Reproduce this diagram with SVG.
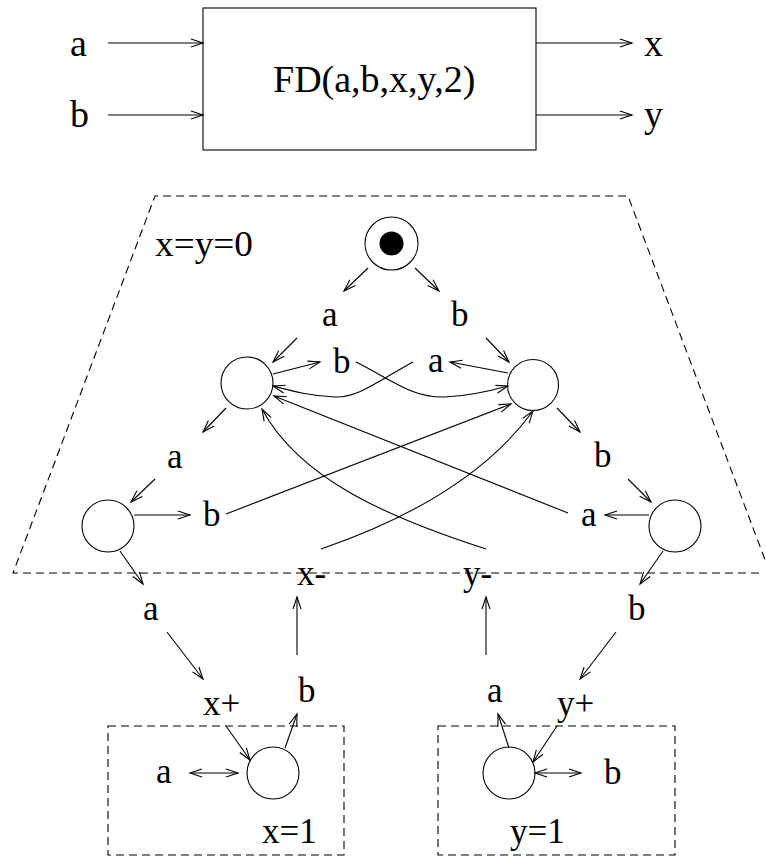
<svg xmlns="http://www.w3.org/2000/svg" width="766" height="859" viewBox="0 0 766 859">
<style>
text{font-family:"Liberation Serif","Times New Roman",serif;font-size:35px;fill:#000}
.big{font-size:38px}
.ln{fill:none;stroke:#000;stroke-width:1.1}
.ar{marker-end:url(#ah)}
.dbl{marker-start:url(#ah);marker-end:url(#ah)}
.st{fill:#fff;stroke:#000;stroke-width:1.1}
.dash{fill:none;stroke:#000;stroke-width:1.1;stroke-dasharray:8 5}
</style>
<defs>
<marker id="ah" viewBox="-1 -5 15 10" refX="12" refY="0" markerWidth="15" markerHeight="10" markerUnits="userSpaceOnUse" orient="auto-start-reverse">
<path d="M0,-4 L12,0 L0,4" fill="none" stroke="#000" stroke-width="1.1"/>
</marker>
</defs>
<rect width="766" height="859" fill="#fff"/>

<g id="block">
<rect x="203" y="8" width="333" height="142" class="st"/>
<text x="273" y="92" class="big">FD(a,b,x,y,2)</text>
<text x="70" y="56" class="big">a</text>
<text x="70" y="127" class="big">b</text>
<text x="644" y="56" class="big">x</text>
<text x="644" y="127" class="big">y</text>
</g>

<g id="region0">
<polyline points="759,573 13,573 155,196 628,196 770,573" class="dash"/>
<text x="155" y="256" textLength="98" lengthAdjust="spacingAndGlyphs">x=y=0</text>
</g>

<g id="init">
<circle cx="391.5" cy="243.5" r="26.5" class="st"/>
<circle cx="391.5" cy="243.5" r="12" fill="#000"/>
</g>
<g id="s1"><circle cx="247" cy="383" r="26" class="st"/></g>
<g id="s2"><circle cx="533" cy="385" r="25.5" class="st"/></g>
<g id="s3"><circle cx="108" cy="526" r="26" class="st"/></g>
<g id="s4"><circle cx="675" cy="526" r="26" class="st"/></g>
<g id="region-x1">
<rect x="108" y="726" width="236" height="129" class="dash"/>
<text x="262" y="843">x=1</text>
</g>
<g id="s5"><circle cx="273" cy="773" r="26" class="st"/></g>
<g id="region-y1">
<rect x="438" y="726" width="237" height="129" class="dash"/>
<text x="510" y="843">y=1</text>
</g>
<g id="s6"><circle cx="509" cy="773" r="26" class="st"/></g>

<g id="labels">
<text x="322" y="326">a</text>
<text x="451" y="326">b</text>
<text x="333" y="373">b</text>
<text x="428" y="372">a</text>
<text x="167" y="468">a</text>
<text x="594" y="467">b</text>
<text x="203" y="526">b</text>
<text x="581" y="526">a</text>
<text x="297" y="585">x-</text>
<text x="463" y="585">y-</text>
<text x="143" y="620">a</text>
<text x="628" y="620">b</text>
<text x="298" y="702">b</text>
<text x="487" y="702">a</text>
<text x="203" y="715">x+</text>
<text x="557" y="715">y+</text>
<text x="156" y="783">a</text>
<text x="604" y="784">b</text>
</g>

<g id="connectors">
<line x1="108" y1="43" x2="203" y2="43" class="ln ar"/>
<line x1="108" y1="115" x2="203" y2="115" class="ln ar"/>
<line x1="536" y1="43" x2="632" y2="43" class="ln ar"/>
<line x1="536" y1="115" x2="632" y2="115" class="ln ar"/>

<line x1="368" y1="268" x2="344" y2="291" class="ln ar"/>
<line x1="415" y1="268" x2="439" y2="291" class="ln ar"/>
<line x1="297" y1="338" x2="273" y2="362" class="ln ar"/>
<line x1="486" y1="338" x2="509" y2="362" class="ln ar"/>

<line x1="273" y1="374" x2="320" y2="362" class="ln ar"/>
<path d="M356,362 C392,380 412,398 445,397 C470,396 490,391 508,386" class="ln ar"/>
<line x1="508" y1="373" x2="450" y2="362" class="ln ar"/>
<path d="M413,362 C378,381 358,398 335,397 C310,396 292,391 273,386" class="ln ar"/>

<line x1="226" y1="408" x2="203" y2="432" class="ln ar"/>
<line x1="557" y1="408" x2="580" y2="432" class="ln ar"/>
<line x1="155" y1="479" x2="131" y2="502" class="ln ar"/>
<line x1="628" y1="479" x2="651" y2="502" class="ln ar"/>

<line x1="134" y1="515" x2="190" y2="515" class="ln ar"/>
<line x1="226" y1="514" x2="511" y2="404" class="ln ar"/>
<line x1="649" y1="515" x2="605" y2="515" class="ln ar"/>
<line x1="568" y1="513" x2="274" y2="396" class="ln ar"/>

<path d="M321,549 C420,515 490,470 533,411" class="ln ar"/>
<path d="M486,549 C390,518 300,480 262,409" class="ln ar"/>

<line x1="120" y1="551" x2="143" y2="584" class="ln ar"/>
<line x1="663" y1="551" x2="640" y2="584" class="ln ar"/>

<line x1="297" y1="655" x2="297" y2="597" class="ln ar"/>
<line x1="486" y1="655" x2="486" y2="597" class="ln ar"/>

<line x1="167" y1="632" x2="203" y2="679" class="ln ar"/>
<line x1="616" y1="632" x2="580" y2="679" class="ln ar"/>

<line x1="226" y1="726" x2="250" y2="760" class="ln ar"/>
<line x1="285" y1="748" x2="297" y2="714" class="ln ar"/>
<line x1="190" y1="773" x2="238" y2="773" class="ln dbl"/>

<line x1="557" y1="726" x2="533" y2="762" class="ln ar"/>
<line x1="509" y1="748" x2="498" y2="714" class="ln ar"/>
<line x1="535" y1="773" x2="581" y2="773" class="ln dbl"/>
</g>
</svg>
